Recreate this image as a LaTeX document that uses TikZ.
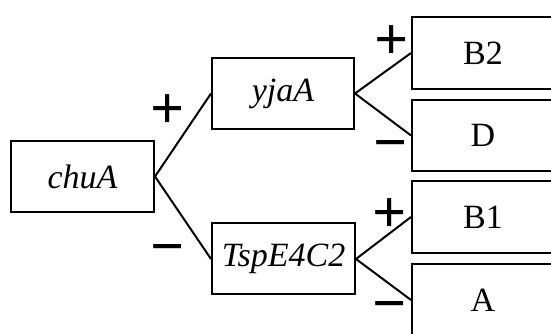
\documentclass[tikz,border=0pt]{standalone}
\usepackage{fontspec}
\setmainfont{Liberation Serif}
\begin{document}
\begin{tikzpicture}[x=1pt,y=1pt,
  box/.style={draw, line width=2pt, inner sep=0pt, minimum width=143pt, minimum height=71pt, font=\fontsize{34}{40}\selectfont},
  gene/.style={box, font=\fontsize{34}{40}\selectfont\itshape},
  conn/.style={line width=2pt},
  sign/.style={inner sep=0pt, text height=0.5em, text depth=0pt, anchor=base, font=\fontsize{60}{62}\selectfont\bfseries}]
\useasboundingbox (0,0) rectangle (551,334);
\clip (0,0) rectangle (551,334);
\node[gene] (chuA) at (82.5,157.5) {chuA};
\node[gene, minimum width=142pt] (yjaA) at (283,240.5) {yjaA};
\node[gene] (tsp) at (283.5,75) {TspE4C2};
\node[box, minimum width=142pt, minimum height=72pt] (B2) at (483,281) {B2};
\node[box, minimum width=142pt] (D) at (483,198.5) {D};
\node[box, minimum width=142pt, minimum height=72pt] (B1) at (483,117) {B1};
\node[box, minimum width=142pt, minimum height=72pt] (A) at (483,34) {A};
\draw[conn] (yjaA.west) -- (chuA.east) -- (tsp.west);
\draw[conn] (B2.west) -- (yjaA.east) -- (D.west);
\draw[conn] (B1.west) -- (tsp.east) -- (A.west);
\node[sign] (p1) at (168,205) {+};
\node[sign] (m1) at (168,67) {−};
\node[sign] (p2) at (392,274) {+};
\node[sign] (m2) at (391,171) {−};
\node[sign] (p3) at (390,101) {+};
\node[sign] (m3) at (390,10) {−};
\end{tikzpicture}
\end{document}
